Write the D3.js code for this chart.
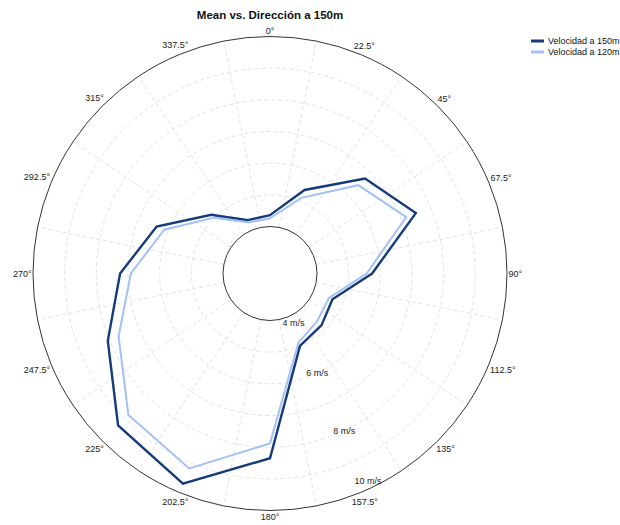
<!DOCTYPE html>
<html>
<head>
<meta charset="utf-8">
<script src="https://cdn.jsdelivr.net/npm/d3@7"></script>
<style>
  html, body { margin: 0; padding: 0; background: #fff; }
  svg { display: block; }
  text { font-family: "Liberation Sans", Arial, sans-serif; }
</style>
</head>
<body>
<svg id="chart" width="620" height="525"></svg>
<script>
// ---- data ----
const directions = [0, 22.5, 45, 67.5, 90, 112.5, 135, 157.5, 180, 202.5, 225, 247.5, 270, 292.5, 315, 337.5];
const directionLabels = ["0°", "22.5°", "45°", "67.5°", "90°", "112.5°", "135°", "157.5°", "180°", "202.5°", "225°", "247.5°", "270°", "292.5°", "315°", "337.5°"];
const speed150 = [4.36, 5.37, 6.76, 7.50, 5.74, 4.65, 4.82, 4.99, 8.35, 9.70, 9.30, 8.06, 7.25, 6.39, 5.14, 4.34];
const speed120 = [4.26, 5.10, 6.46, 7.17, 5.57, 4.53, 4.63, 4.87, 7.88, 9.18, 8.84, 7.69, 6.91, 6.13, 5.01, 4.26];
const seriesNames = ["Velocidad a 150m", "Velocidad a 120m"];
const radialTicks = [4, 5, 6, 7, 8, 9, 10];
const radialLabelTicks = [4, 6, 8, 10];
const radialLabels = ["4 m/s", "6 m/s", "8 m/s", "10 m/s"];

// ---- layout ----
const cx = 270, cy = 273.5;
const colors = ["#143b7a", "#a4c0f4"];
const widths = [2.4, 2];

const svg = d3.select("#chart");
const r = d3.scaleLinear().domain([4, 10]).range([47, 237]);
const ang = d3.scaleLinear().domain([0, 360]).range([0, 2 * Math.PI]);

// title
svg.append("text")
  .attr("x", cx).attr("y", 19)
  .attr("text-anchor", "middle")
  .style("font-weight", "bold")
  .style("font-size", "11.5px")
  .attr("fill", "#111")
  .text("Mean vs. Dirección a 150m");

const g = svg.append("g").attr("transform", `translate(${cx},${cy})`);

// dashed rings
g.selectAll("circle.ring")
  .data(radialTicks.slice(1, -1))
  .join("circle")
  .attr("class", "ring")
  .attr("r", d => r(d))
  .attr("fill", "none")
  .attr("stroke", "#e3e3e3")
  .attr("stroke-dasharray", "4,3");

// dashed spokes (between direction labels)
const spokeAngles = directions.map(d => d + 11.25);
g.selectAll("line.spoke")
  .data(spokeAngles)
  .join("line")
  .attr("class", "spoke")
  .attr("x1", d => r(4) * Math.sin(ang(d)))
  .attr("y1", d => -r(4) * Math.cos(ang(d)))
  .attr("x2", d => r(10) * Math.sin(ang(d)))
  .attr("y2", d => -r(10) * Math.cos(ang(d)))
  .attr("stroke", "#e3e3e3")
  .attr("stroke-dasharray", "4,3");

// solid inner & outer circles
g.selectAll("circle.edge")
  .data([4, 10])
  .join("circle")
  .attr("class", "edge")
  .attr("r", d => r(d))
  .attr("fill", "none")
  .attr("stroke", "#333")
  .attr("stroke-width", 1);

// series lines
const line = d3.lineRadial()
  .angle(d => ang(d.dir))
  .radius(d => r(d.v))
  .curve(d3.curveLinearClosed);

const series = [speed120, speed150];
const seriesIdx = [1, 0];
series.forEach((vals, k) => {
  const i = seriesIdx[k];
  const pts = directions.map((dir, j) => ({ dir, v: vals[j] }));
  g.append("path")
    .attr("d", line(pts))
    .attr("fill", "none")
    .attr("stroke", colors[i])
    .attr("stroke-width", widths[i])
    .attr("stroke-linejoin", "miter");
});

// direction labels
const R = r(10);
const labelFont = 9;
const dl = g.selectAll("text.dir")
  .data(directions)
  .join("text")
  .attr("class", "dir")
  .style("font-size", labelFont + "px")
  .attr("fill", "#222")
  .attr("text-anchor", "middle")
  .attr("dominant-baseline", "central")
  .text((d, i) => directionLabels[i]);
dl.each(function(d) {
  const w = this.getComputedTextLength();
  const a = ang(d);
  const h = 9;
  const rr = R + 1.5 + (w / 2) * Math.abs(Math.sin(a)) + (h / 2) * Math.abs(Math.cos(a));
  d3.select(this).attr("x", rr * Math.sin(a)).attr("y", -rr * Math.cos(a));
});

// radial value labels
const labAngle = ang(154.7);
g.selectAll("text.rad")
  .data(radialLabelTicks)
  .join("text")
  .attr("class", "rad")
  .style("font-size", "9px")
  .attr("fill", "#222")
  .attr("text-anchor", "middle")
  .attr("dominant-baseline", "central")
  .attr("x", d => {
    const rr = r(d) + (d === 4 ? 8 : d === 10 ? -7.5 : 0);
    return rr * Math.sin(labAngle);
  })
  .attr("y", d => {
    const rr = r(d) + (d === 4 ? 8 : d === 10 ? -7.5 : 0);
    return -rr * Math.cos(labAngle);
  })
  .text((d, i) => radialLabels[i]);

// legend
const lg = svg.append("g").attr("transform", "translate(531,41)");
seriesNames.forEach((name, i) => {
  const row = lg.append("g").attr("transform", `translate(0,${i * 11})`);
  row.append("line")
    .attr("x1", 0).attr("x2", 13).attr("y1", 0).attr("y2", 0)
    .attr("stroke", colors[i]).attr("stroke-width", 3);
  row.append("text")
    .attr("x", 17).attr("y", 0)
    .attr("dominant-baseline", "central")
    .style("font-size", "9px")
    .attr("fill", "#111")
    .text(name);
});
</script>
</body>
</html>
